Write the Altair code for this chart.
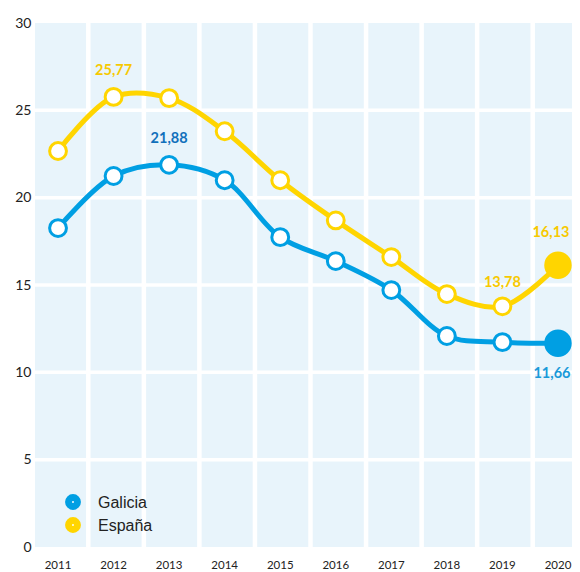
import altair as alt
import pandas as pd

# ---- data ----
years = ["2011", "2012", "2013", "2014", "2015", "2016", "2017", "2018", "2019", "2020"]
galicia = [18.26, 21.24, 21.88, 21.00, 17.74, 16.37, 14.71, 12.08, 11.73, 11.66]
espana = [22.67, 25.77, 25.70, 23.80, 21.00, 18.70, 16.60, 14.48, 13.78, 16.13]
series_names = ["Galicia", "España"]
series_colors = ["#009fe3", "#ffd500"]
y_ticks = [0, 5, 10, 15, 20, 25, 30]

label_years = ["2012", "2013", "2019", "2020", "2020"]
label_series = ["España", "Galicia", "España", "España", "Galicia"]
label_texts = ["25,77", "21,88", "13,78", "16,13", "11,66"]
label_colors = ["#f7c900", "#1170bb", "#f7c900", "#f7c900", "#1a9ad9"]
label_dy = [-26, -26, -23, -32, 31]
label_dx = [0, 0, 0, -7, -6]

# ---- tables ----
values = {"Galicia": galicia, "España": espana}
df = pd.DataFrame(
    [{"year": y, "series": s, "value": values[s][i]} for s in series_names for i, y in enumerate(years)]
)
df_last = df[df["year"] == years[-1]]
df_bg = pd.DataFrame({"year": years, "lo": y_ticks[0], "hi": y_ticks[-1]})
df_grid = pd.DataFrame({"v": y_ticks[1:-1]})
df_lab = pd.DataFrame({
    "year": label_years,
    "series": label_series,
    "text": label_texts,
    "color": label_colors,
    "dy": label_dy,
    "dx": label_dx,
    "value": [values[s][years.index(y)] for s, y in zip(label_series, label_years)],
})

PLOT_W, PLOT_H = 537, 524
XOFF = -2.5
xscale = alt.Scale(type="band", paddingInner=0.081, paddingOuter=0, range=[0, 551])
yscale = alt.Scale(domain=[y_ticks[0], y_ticks[-1]], nice=False, zero=True)
cscale = alt.Scale(domain=series_names, range=series_colors)

x_axis = alt.Axis(labelAngle=0, domain=False, ticks=False, labelPadding=12, labelOffset=-2.5,
                  labelFont="Lato", labelFontSize=11.5, labelColor="#222222", grid=False)
y_axis = alt.Axis(values=y_ticks, domain=False, ticks=False, grid=False, labelPadding=4,
                  labelFont="Lato", labelFontSize=14, labelColor="#222222")

X = alt.X("year:N", scale=xscale, axis=x_axis, title=None)
Y = alt.Y("value:Q", scale=yscale, axis=y_axis, title=None)

bg = alt.Chart(df_bg).mark_rect(color="#e8f4fb", clip=True).encode(
    x=X, y=alt.Y("lo:Q", scale=yscale, axis=y_axis, title=None), y2="hi:Q"
)
grid = alt.Chart(df_grid).mark_rule(color="white", strokeWidth=3.5).encode(
    y=alt.Y("v:Q", scale=yscale, axis=y_axis, title=None)
)
line = alt.Chart(df).mark_line(interpolate="catmull-rom", strokeWidth=5, xOffset=XOFF).encode(
    x=X, y=Y, stroke=alt.Stroke("series:N", scale=cscale, legend=None)
)
pts = alt.Chart(df).mark_point(shape="circle", filled=True, fill="white", fillOpacity=1,
                               opacity=1, size=284, strokeWidth=3, xOffset=XOFF).encode(
    x=X, y=Y, stroke=alt.Stroke("series:N", scale=cscale, legend=None)
)
last = alt.Chart(df_last).mark_circle(size=755, opacity=1, xOffset=XOFF).encode(
    x=X, y=Y, fill=alt.Fill("series:N", scale=cscale, legend=None)
)

layers = [bg, grid, line, pts, last]
for d in sorted(set(zip(label_dy, label_dx))):
    sub = df_lab[(df_lab["dy"] == d[0]) & (df_lab["dx"] == d[1])]
    layers.append(
        alt.Chart(sub).mark_text(dy=d[0], dx=d[1] + XOFF, font="Lato", fontSize=14.5,
                                 fontWeight="bold", baseline="middle", align="center").encode(
            x=X, y=Y, text="text:N", color=alt.Color("color:N", scale=None)
        )
    )

# ---- manual legend (layout only) ----
for i, (name, col) in enumerate(zip(series_names, series_colors)):
    ldf = pd.DataFrame({"series": [name]})
    layers.append(
        alt.Chart(ldf).mark_point(shape="circle", filled=True, fill="white", fillOpacity=1,
                                  stroke=col, strokeWidth=7, size=79, opacity=1).encode(
            x=alt.value(38), y=alt.value(479 + 23 * i)
        )
    )
    layers.append(
        alt.Chart(ldf).mark_text(align="left", baseline="middle", font="Liberation Sans",
                                 fontSize=16, color="#222222").encode(
            x=alt.value(63), y=alt.value(480 + 23 * i), text="series:N"
        )
    )

chart = alt.layer(*layers).properties(
    width=PLOT_W, height=PLOT_H,
    padding={"left": 27, "top": 15, "right": 0, "bottom": 25},
    autosize=alt.AutoSizeParams(type="none"),
).configure_view(stroke=None)

chart.save("out.html", embed_options={"renderer": "svg", "actions": False})
